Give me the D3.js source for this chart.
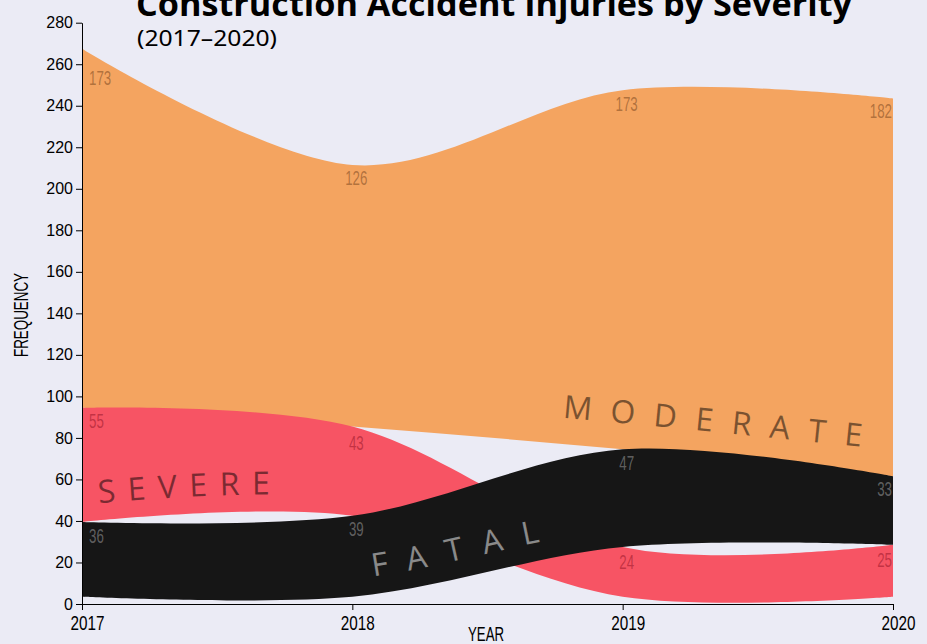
<!DOCTYPE html>
<html><head><meta charset="utf-8">
<script src="https://cdn.jsdelivr.net/npm/d3@7"></script>
<style>
html,body{margin:0;padding:0;background:#ebebf5;}
svg{display:block;}
</style></head>
<body>
<svg id="chart" width="927" height="644"></svg>
<script>
// ---- data ----
const years = [2017, 2018, 2019, 2020];
const moderate = [173, 126, 173, 182];
const severe = [55, 43, 24, 25];
const fatal = [36, 39, 47, 33];
const seriesNames = ["MODERATE", "SEVERE", "FATAL"];
const yTickValues = [0, 20, 40, 60, 80, 100, 120, 140, 160, 180, 200, 220, 240, 260, 280];
const titleText = "Construction Accident Injuries by Severity";
const subtitleText = "(2017\u20132020)";
const baseline = 3.5;

// ---- setup ----
const W = 927, H = 644;
const svg = d3.select("#chart");
svg.append("rect").attr("width", W).attr("height", H).attr("fill", "#ebebf5");

const x = d3.scaleLinear().domain([2017, 2020]).range([82, 893]);
const y = d3.scaleLinear().domain([0, 280]).range([604, 22.7]);

const fills = ["#f4a460", "#f75464", "#161616"];
const labelFills = ["rgba(120,70,30,0.55)", "rgba(150,20,40,0.55)", "rgba(255,255,255,0.32)"];
const nameFills = ["rgba(0,0,0,0.5)", "rgba(0,0,0,0.5)", "rgba(255,255,255,0.5)"];
const valuesList = [moderate, severe, fatal];

// rank-based stacking per year (smallest at bottom)
const series = seriesNames.map((n, k) => ({name: n, values: valuesList[k], pts: []}));
years.forEach((yr, i) => {
  const order = d3.range(series.length).sort((a, b) => series[a].values[i] - series[b].values[i]);
  let cum = baseline;
  order.forEach(k => {
    const v = series[k].values[i];
    series[k].pts[i] = {year: yr, y0: cum, y1: cum + v, v: v};
    cum += v;
  });
});

const curve = d3.curveCardinal;
const area = d3.area().x(d => x(d.year)).y0(d => y(d.y0)).y1(d => y(d.y1)).curve(curve);
const topLine = d3.line().x(d => x(d.year)).y(d => y(d.y1)).curve(curve);
const botLine = d3.line().x(d => x(d.year)).y(d => y(d.y0)).curve(curve);

const defs = svg.append("defs");
const gAreas = svg.append("g");
series.forEach((s, k) => {
  gAreas.append("path").attr("d", area(s.pts)).attr("fill", fills[k]);
  defs.append("path").attr("id", "top" + k).attr("d", topLine(s.pts));
  defs.append("path").attr("id", "bot" + k).attr("d", botLine(s.pts));
});

function samplePath(node) {
  const L = node.getTotalLength();
  const out = [];
  for (let l = 0; l <= L; l += 0.5) { const p = node.getPointAtLength(l); out.push({x: p.x, y: p.y, l: l}); }
  return out;
}

// ---- axes ----
const axisFont = "'Liberation Sans', Arial, sans-serif";
const narrowFont = "'Liberation Sans Narrow', 'Liberation Sans', Arial, sans-serif";

const yAxis = svg.append("g").attr("transform", `translate(${x(2017)},0)`)
  .call(d3.axisLeft(y).tickValues(yTickValues).tickSize(6).tickSizeOuter(0));
yAxis.selectAll("text").attr("font-family", axisFont).attr("font-size", 16).attr("fill", "#000");
yAxis.selectAll("line,path").attr("stroke", "#000");

const xAxis = svg.append("g").attr("transform", `translate(0,${y(0)})`)
  .call(d3.axisBottom(x).tickValues(years).tickFormat(d3.format("d")).tickSize(6).tickSizeOuter(0));
xAxis.selectAll("text").attr("font-family", narrowFont).attr("font-size", 19.5).attr("fill", "#000")
  .attr("y", 12).attr("dx", 5).attr("textLength", 34).attr("lengthAdjust", "spacingAndGlyphs");
xAxis.selectAll("line,path").attr("stroke", "#000");

svg.append("text").attr("transform", "translate(28,315) rotate(-90)")
  .attr("text-anchor", "middle").attr("font-family", narrowFont).attr("font-size", 20)
  .attr("textLength", 84).attr("lengthAdjust", "spacingAndGlyphs").text("FREQUENCY");
svg.append("text").attr("x", 486).attr("y", 641)
  .attr("text-anchor", "middle").attr("font-family", narrowFont).attr("font-size", 20)
  .attr("textLength", 36).attr("lengthAdjust", "spacingAndGlyphs").text("YEAR");

// ---- value labels ----
const gLabels = svg.append("g");
series.forEach((s, k) => {
  const top = samplePath(document.getElementById("top" + k));
  s.pts.forEach((p, i) => {
    let anchor = "middle", dx = 4;
    if (i === 0) { anchor = "start"; dx = 7; }
    if (i === years.length - 1) { anchor = "end"; dx = -1; }
    const str = String(p.v);
    const t = gLabels.append("text")
      .attr("x", x(p.year) + dx).attr("y", y(p.y1) + 19)
      .attr("text-anchor", anchor)
      .attr("font-family", narrowFont).attr("font-size", 21)
      .attr("textLength", str.length * 7.4).attr("lengthAdjust", "spacingAndGlyphs")
      .attr("fill", labelFills[k]).text(str);
    const bb = t.node().getBBox();
    const inside = top.filter(q => q.x >= bb.x && q.x <= bb.x + bb.width);
    const maxY = inside.length ? d3.max(inside, q => q.y) : y(p.y1);
    t.attr("y", maxY + 20);
  });
});

// ---- series name labels along bottom edges ----
const nameCfg = [
  {startX: 560, dy: -26, size: 32, ls: 18.5},
  {startX: 100, dy: -17, size: 32, ls: 12},
  {startX: 376, dy: -18, size: 32, ls: 20}
];
series.forEach((s, k) => {
  const cfg = nameCfg[k];
  const pts = samplePath(document.getElementById("bot" + k));
  const hit = pts.find(q => q.x >= cfg.startX) || pts[0];
  svg.append("text")
    .attr("font-family", "'Open Sans', 'Noto Sans', sans-serif").attr("font-size", cfg.size)
    .attr("letter-spacing", cfg.ls).attr("fill", nameFills[k])
    .append("textPath").attr("href", "#bot" + k).attr("startOffset", hit.l)
    .append("tspan").attr("dy", cfg.dy).text(s.name);
});

// ---- titles ----
svg.append("text").attr("x", 136).attr("y", 16)
  .attr("font-family", "'Open Sans', 'Noto Sans', sans-serif").attr("font-weight", 700)
  .attr("font-size", 34).attr("fill", "#000")
  .attr("textLength", 716).attr("lengthAdjust", "spacingAndGlyphs").text(titleText);
svg.append("text").attr("x", 137).attr("y", 46)
  .attr("font-family", "'Noto Sans', 'Open Sans', sans-serif")
  .attr("font-size", 21).attr("fill", "#000")
  .attr("textLength", 140).attr("lengthAdjust", "spacingAndGlyphs").text(subtitleText);
</script>
</body></html>
